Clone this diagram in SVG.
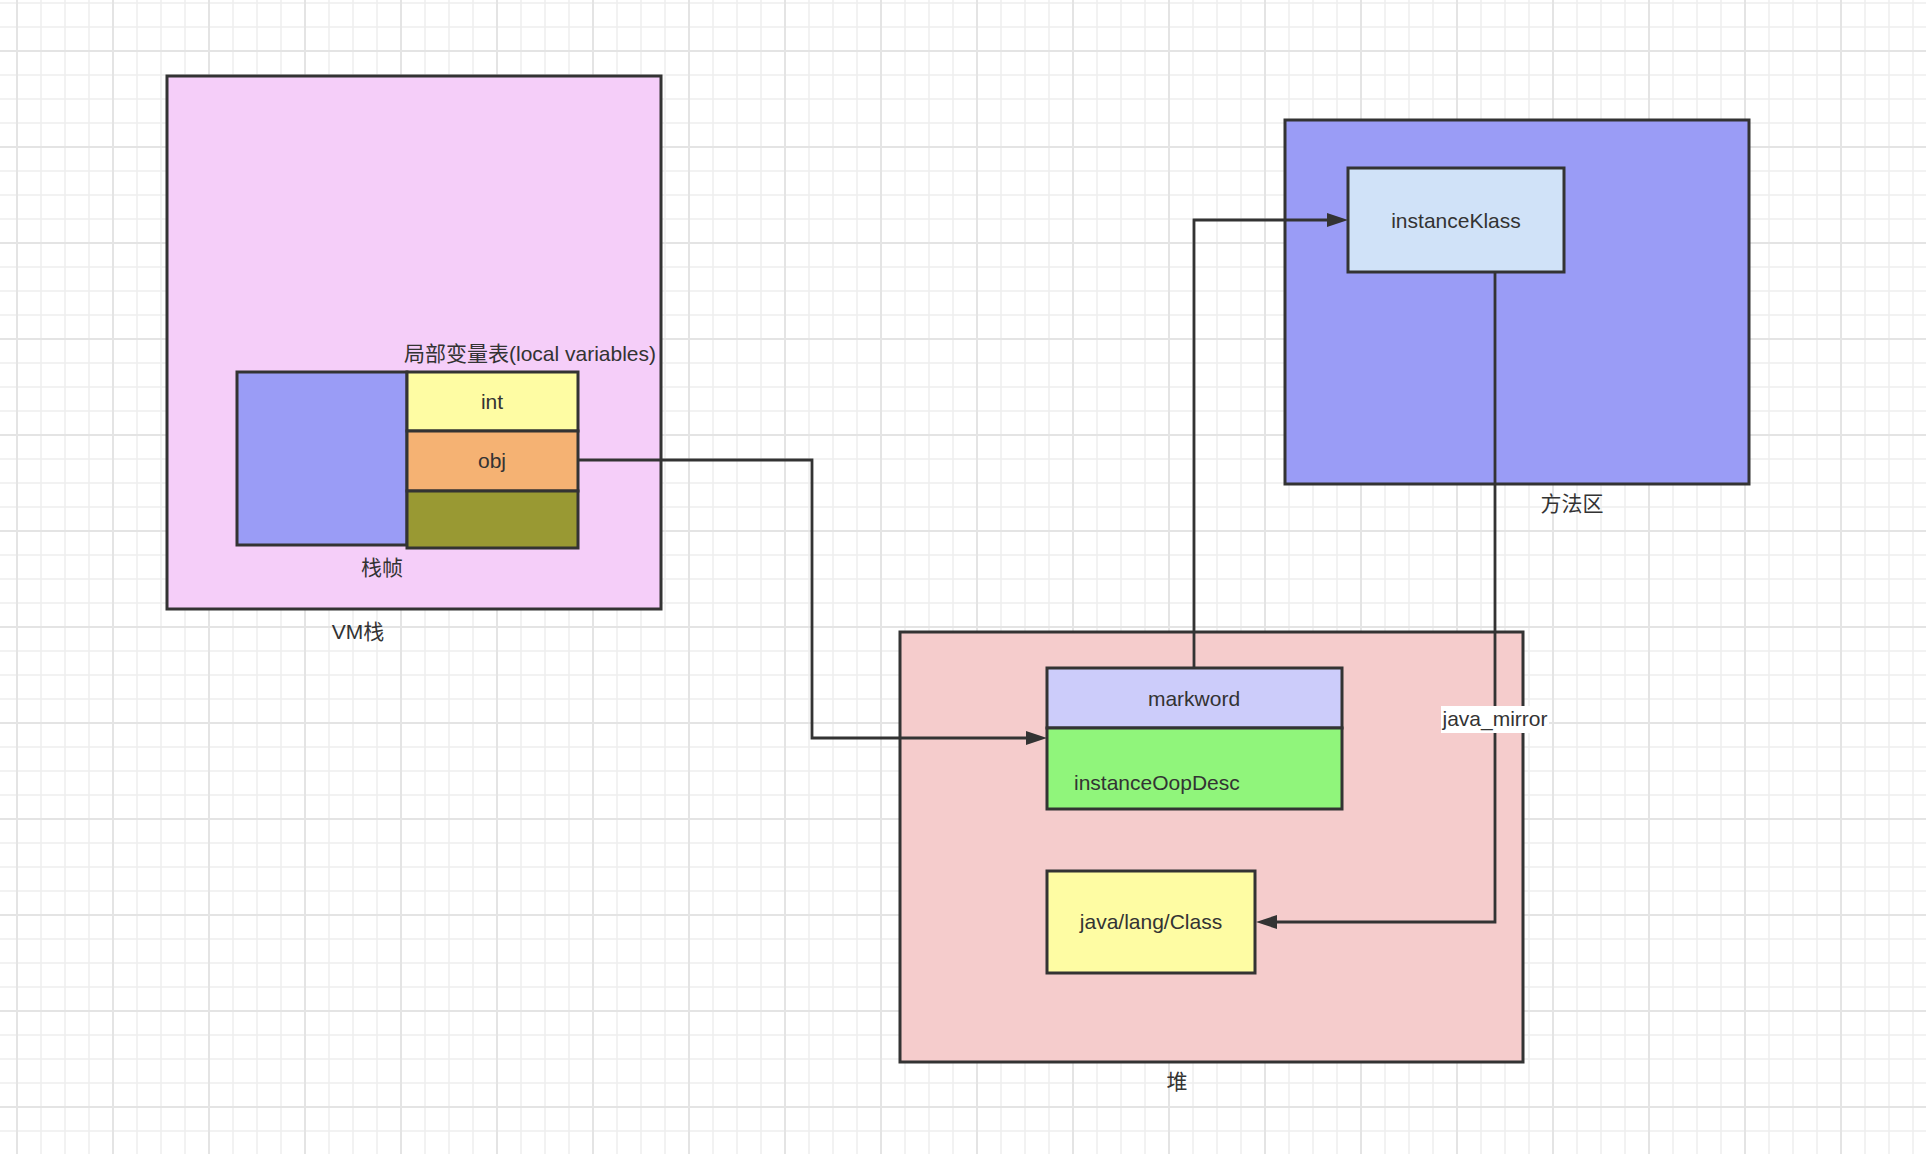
<svg xmlns="http://www.w3.org/2000/svg" width="1926" height="1154" viewBox="0 0 1926 1154">
<style>
.box{stroke:#333333;stroke-width:3}
.t{font-family:"Liberation Sans","Noto Sans CJK SC",sans-serif;font-size:21px;fill:#333333}
.c{text-anchor:middle;dominant-baseline:central}
.edge{fill:none;stroke:#333333;stroke-width:2.8}
.minor{stroke:#eeeeee;stroke-width:1.5}
.major{stroke:#e4e4e4;stroke-width:2}
</style>
<defs>
<pattern id="grid" patternUnits="userSpaceOnUse" x="0" y="0" width="96" height="96">
<line class="minor" x1="41" y1="0" x2="41" y2="96"/>
<line class="minor" x1="65" y1="0" x2="65" y2="96"/>
<line class="minor" x1="89" y1="0" x2="89" y2="96"/>
<line class="minor" x1="0" y1="3" x2="96" y2="3"/>
<line class="minor" x1="0" y1="27" x2="96" y2="27"/>
<line class="minor" x1="0" y1="75" x2="96" y2="75"/>
<line class="major" x1="17" y1="0" x2="17" y2="96"/>
<line class="major" x1="0" y1="51" x2="96" y2="51"/>
</pattern>
<marker id="arrow" markerUnits="userSpaceOnUse" markerWidth="22" markerHeight="16" refX="0" refY="7" orient="auto">
<path d="M0,0 L21,7 L0,14 Z" fill="#333333"/>
</marker>
</defs>
<rect width="1926" height="1154" fill="#ffffff"/>
<rect width="1926" height="1154" fill="url(#grid)"/>

<g id="vm-stack">
<rect class="box" x="167" y="76" width="494" height="533" fill="#f5cef9"/>
<text class="t c" x="358" y="631">VM栈</text>
</g>
<g id="stack-frame">
<rect class="box" x="237" y="372" width="170" height="173" fill="#9a9cf6"/>
<text class="t c" x="382" y="567">栈帧</text>
</g>
<g id="local-variables">
<text class="t c" x="530" y="353">局部变量表(local variables)</text>
<g id="slot-int">
<rect class="box" x="407" y="372" width="171" height="59" fill="#fefca3"/>
<text class="t c" x="492" y="401">int</text>
</g>
<g id="slot-obj">
<rect class="box" x="407" y="431" width="171" height="60" fill="#f5b273"/>
<text class="t c" x="492" y="460">obj</text>
</g>
<g id="slot-empty">
<rect class="box" x="407" y="491" width="171" height="57" fill="#999933"/>
</g>
</g>

<g id="method-area">
<rect class="box" x="1285" y="120" width="464" height="364" fill="#9a9cf6"/>
<text class="t c" x="1572" y="503">方法区</text>
</g>
<g id="heap">
<rect class="box" x="900" y="632" width="623" height="430" fill="#f5cccc"/>
<text class="t c" x="1177" y="1081">堆</text>
</g>

<g id="connectors">
<path class="edge" d="M578,460 H812 V738 H1026" marker-end="url(#arrow)"/>
<path class="edge" d="M1194,668 V220 H1327" marker-end="url(#arrow)"/>
<path class="edge" d="M1495,272 V922 H1277" marker-end="url(#arrow)"/>
<rect x="1441" y="706" width="108" height="27" fill="#ffffff"/>
<text class="t c" x="1495" y="718">java_mirror</text>
</g>

<g id="instanceKlass">
<rect class="box" x="1348" y="168" width="216" height="104" fill="#d0e2f8"/>
<text class="t c" x="1456" y="220">instanceKlass</text>
</g>
<g id="instanceOopDesc">
<rect class="box" x="1047" y="668" width="295" height="60" fill="#ccccfa"/>
<text class="t c" x="1194" y="698">markword</text>
<rect class="box" x="1047" y="728" width="295" height="81" fill="#90f57b"/>
<text class="t" x="1074" y="790">instanceOopDesc</text>
</g>
<g id="java-lang-class">
<rect class="box" x="1047" y="871" width="208" height="102" fill="#fefca3"/>
<text class="t c" x="1151" y="921">java/lang/Class</text>
</g>
</svg>
